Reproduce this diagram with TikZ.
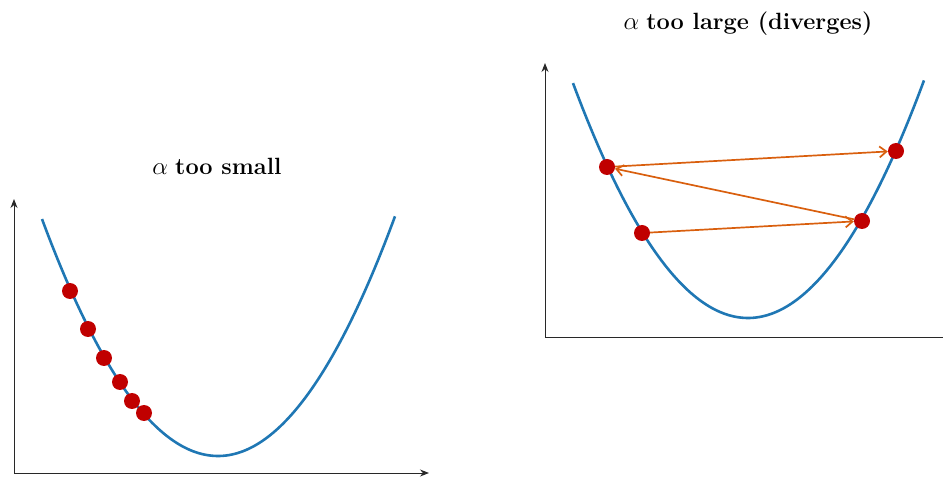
\documentclass[tikz,border=0pt]{standalone}
\usepackage{fontspec}
\usetikzlibrary{arrows.meta}
\definecolor{curveblue}{RGB}{31,119,180}
\definecolor{dotred}{RGB}{192,0,0}
\definecolor{arrorange}{RGB}{217,95,14}
\definecolor{axisgray}{RGB}{40,40,40}
\tikzset{
  axis/.style={draw=axisgray, line width=1pt, -{Stealth[length=9pt,width=7pt]}},
  curve/.style={draw=curveblue, line width=2.6pt},
  dot/.style={circle, fill=dotred, inner sep=0pt, minimum size=16pt},
  jump/.style={draw=arrorange, line width=1.7pt, -{Straight Barb[length=7pt,width=11pt]}},
  ttl/.style={font=\fontsize{23.5}{28}\selectfont}
}
\begin{document}
\begin{tikzpicture}[x=1pt,y=-1pt]
\useasboundingbox (0,0) rectangle (943,478);
% left panel
\coordinate (lo) at (14,473);
\coordinate (ly) at (14,199);
\coordinate (lx) at (429,473);
\draw[axis] (lo) -- (ly);
\draw[axis] (lo) -- (lx);
\draw[curve] plot[domain=42:395, samples=120] (\x, {456-76.5*((\x-218)/100)^2});
\node[ttl] (tl) at (217,166) {$\alpha$ \textbf{too small}};
\node[dot] (a1) at (70,291) {};
\node[dot] (a2) at (88,329) {};
\node[dot] (a3) at (104,358) {};
\node[dot] (a4) at (120,382) {};
\node[dot] (a5) at (132,401) {};
\node[dot] (a6) at (144,413) {};
% right panel
\coordinate (ro) at (545,338);
\coordinate (ry) at (545,63);
\coordinate (rx) at (943,338);
\draw[axis] (ro) -- (ry);
\draw[draw=axisgray, line width=1pt] (ro) -- (rx);
\draw[curve] plot[domain=573:924, samples=120] (\x, {318-76.7*((\x-748)/100)^2});
\node[ttl] (tr) at (748,24) {$\alpha$ \textbf{too large (diverges)}};
\node[dot] (b1) at (642,233) {};
\node[dot] (b2) at (862,221) {};
\node[dot] (b3) at (607,167) {};
\node[dot] (b4) at (896,151) {};
\draw[jump] (b1) -- (b2);
\draw[jump] (b2) -- (b3);
\draw[jump] (b3) -- (b4);
\end{tikzpicture}
\end{document}
